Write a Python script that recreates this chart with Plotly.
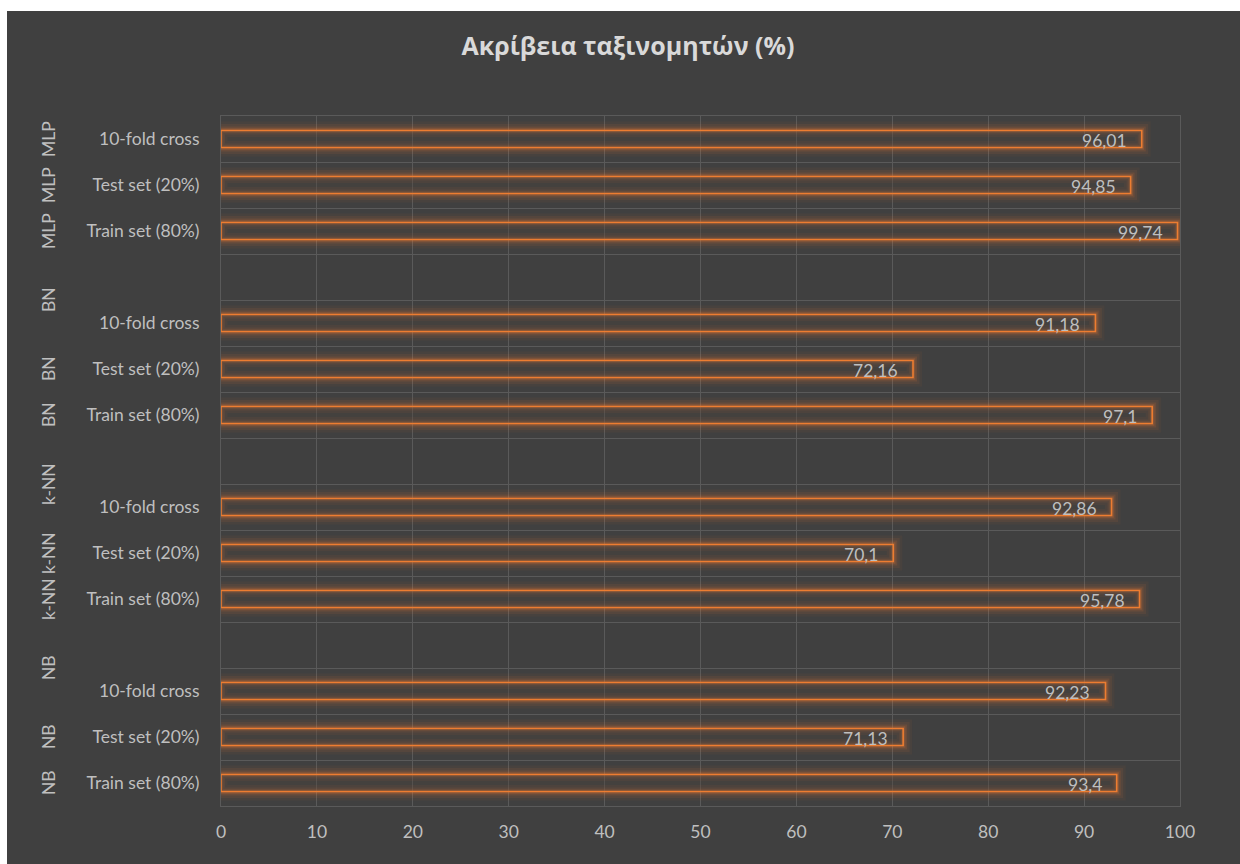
import plotly.graph_objects as go

# Classifier accuracy (%) per evaluation method
groups = ["NB", "k-NN", "BN", "MLP"]
methods = ["Train set (80%)", "Test set (20%)", "10-fold cross"]
nb_acc = [93.4, 71.13, 92.23]
knn_acc = [95.78, 70.1, 92.86]
bn_acc = [97.1, 72.16, 91.18]
mlp_acc = [99.74, 94.85, 96.01]
x_ticks = [0, 10, 20, 30, 40, 50, 60, 70, 80, 90, 100]

all_acc = [nb_acc, knn_acc, bn_acc, mlp_acc]

W, H = 1240, 864
L, R, T, B = 221, 60, 116, 58
BG = "#404040"
TXT = "#bfbfbf"
GRID = "#5a5a5a"
ORANGE = (237, 125, 49)
FONT = "Lato, Open Sans, sans-serif"
FS = 17.5

# each group takes 3 bar rows plus one spacer row
ys, xs, labels = [], [], []
for g, acc in enumerate(all_acc):
    for m, v in enumerate(acc):
        ys.append(4 * g + m)
        xs.append(v)
        labels.append(f"{v:g}".replace(".", ","))

n_rows = 4 * len(groups) - 1
bar_w = 0.37

fig = go.Figure()

# soft orange glow around each bar
for lw, a in [(18, 0.05), (13, 0.08), (8, 0.13), (4.5, 0.22)]:
    fig.add_trace(go.Bar(
        x=xs, y=ys, orientation="h", width=bar_w,
        marker=dict(color="rgba(0,0,0,0)",
                    line=dict(color=f"rgba({ORANGE[0]},{ORANGE[1]},{ORANGE[2]},{a})", width=lw)),
        hoverinfo="skip", showlegend=False,
    ))

# main outlined bars
fig.add_trace(go.Bar(
    x=xs, y=ys, orientation="h", width=bar_w,
    marker=dict(color="rgba(64,64,64,0.35)",
                line=dict(color=f"rgb({ORANGE[0]},{ORANGE[1]},{ORANGE[2]})", width=1.6)),
    showlegend=False,
))

annotations = []
# value labels at the inner end of each bar
for x, y, t in zip(xs, ys, labels):
    annotations.append(dict(
        x=x, y=y, xref="x", yref="y", text=t, showarrow=False,
        xanchor="right", yanchor="middle", xshift=-13, yshift=-1,
        font=dict(family=FONT, size=FS, color=TXT),
    ))

# rotated group labels
plot_w = W - L - R
for g, name in enumerate(groups):
    for m in range(3):
        y = 4 * g + m
        if m == 2:
            y = min(y + 0.5, n_rows - 1)
        annotations.append(dict(
            x=(48 - L) / plot_w, y=y, xref="paper", yref="y", text=name,
            showarrow=False, textangle=-90, xanchor="center", yanchor="middle",
            font=dict(family=FONT, size=FS, color=TXT),
        ))

fig.update_layout(
    width=W, height=H,
    margin=dict(l=L, r=R, t=T, b=B, pad=0),
    paper_bgcolor="white",
    plot_bgcolor="rgba(0,0,0,0)",
    barmode="overlay",
    title=dict(text="<b>Ακρίβεια ταξινομητών (%)</b>", x=(628 - L) / plot_w, xref="paper",
               xanchor="center", y=1 - 46 / H, yanchor="middle",
               font=dict(family="Open Sans, sans-serif", size=25, color="#d9d9d9")),
    xaxis=dict(range=[0, 100], tickvals=x_ticks, showgrid=True, gridcolor=GRID, gridwidth=1,
               zeroline=False, showline=True, mirror=True, linecolor=GRID, linewidth=1,
               ticks="", tickfont=dict(family=FONT, size=FS, color=TXT), ticklabelstandoff=10),
    yaxis=dict(range=[-0.5, n_rows - 0.5], tickvals=ys,
               ticktext=[methods[y % 4] for y in ys], showgrid=False, zeroline=False,
               showline=True, mirror=True, linecolor=GRID, linewidth=1, ticks="",
               tickfont=dict(family=FONT, size=FS, color=TXT), ticklabelstandoff=17,
               minor=dict(tickvals=[i - 0.5 for i in range(n_rows + 1)], showgrid=True,
                          gridcolor=GRID, gridwidth=1, ticks="")),
    annotations=annotations,
    shapes=[dict(type="rect", xref="paper", yref="paper", layer="below",
                 x0=(7 - L) / plot_w, x1=(W - L) / plot_w,
                 y0=-B / (H - T - B), y1=(H - B - 11) / (H - T - B),
                 fillcolor=BG, line=dict(width=0))],
)

fig.write_html("out.html")
